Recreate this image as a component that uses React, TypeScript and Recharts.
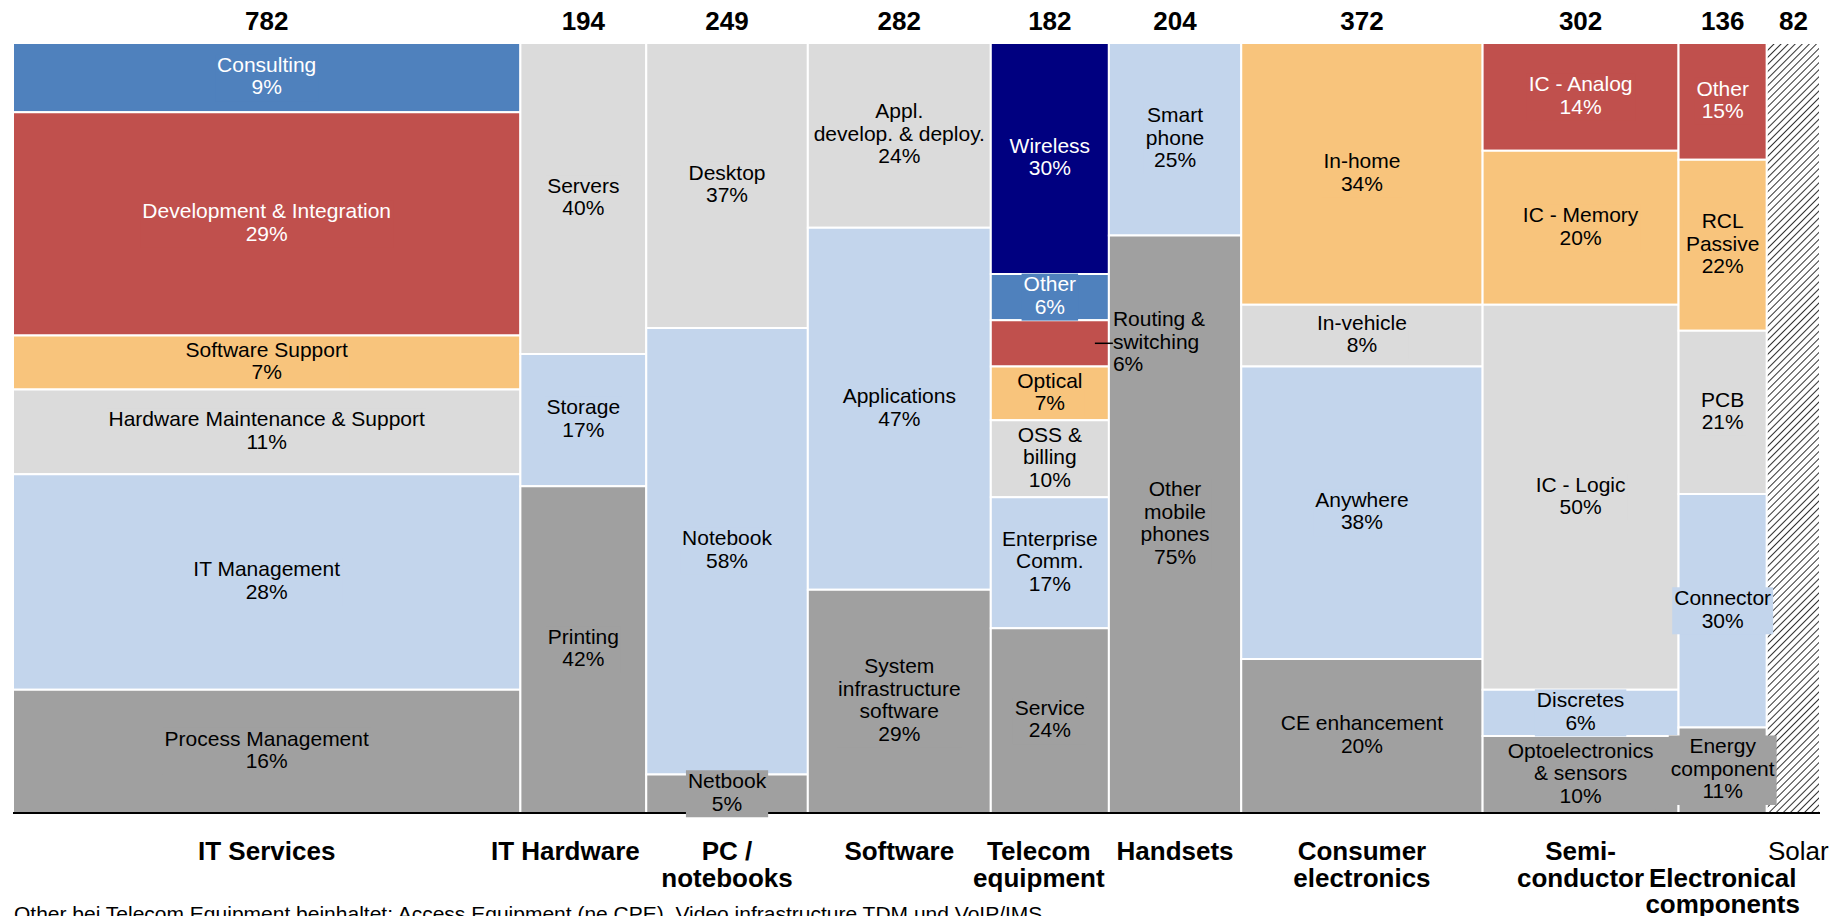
import React from 'react';
import {ComposedChart, XAxis, YAxis, ReferenceArea} from 'recharts';

const FONT = '"Liberation Sans", Arial, Helvetica, sans-serif';

// market size per column (top numbers) and column names (bottom)
const markets = [
  'IT Services', 'IT Hardware', 'PC /\nnotebooks', 'Software', 'Telecom\nequipment',
  'Handsets', 'Consumer\nelectronics', 'Semi-\nconductor', 'Electronical\ncomponents', 'Solar',
];
const marketTotals = [782, 194, 249, 282, 182, 204, 372, 302, 136, 82];

// segments, top to bottom
const itServices = ['Consulting', 'Development & Integration', 'Software Support', 'Hardware Maintenance & Support', 'IT Management', 'Process Management'];
const itServicesShare = [9, 29, 7, 11, 28, 16];
const itHardware = ['Servers', 'Storage', 'Printing'];
const itHardwareShare = [40, 17, 42];
const pcNotebooks = ['Desktop', 'Notebook', 'Netbook'];
const pcNotebooksShare = [37, 58, 5];
const software = ['Appl.\ndevelop. & deploy.', 'Applications', 'System\ninfrastructure\nsoftware'];
const softwareShare = [24, 47, 29];
const telecom = ['Wireless', 'Other', 'Routing &\nswitching', 'Optical', 'OSS &\nbilling', 'Enterprise\nComm.', 'Service'];
const telecomShare = [30, 6, 6, 7, 10, 17, 24];
const handsets = ['Smart\nphone', 'Other\nmobile\nphones'];
const handsetsShare = [25, 75];
const consumer = ['In-home', 'In-vehicle', 'Anywhere', 'CE enhancement'];
const consumerShare = [34, 8, 38, 20];
const semiconductor = ['IC - Analog', 'IC - Memory', 'IC - Logic', 'Discretes', 'Optoelectronics\n& sensors'];
const semiconductorShare = [14, 20, 50, 6, 10];
const electronical = ['Other', 'RCL\nPassive', 'PCB', 'Connector', 'Energy\ncomponent'];
const electronicalShare = [15, 22, 21, 30, 11];
const solar = [''];
const solarShare = [100];

const footnote = 'Other bei Telecom Equipment beinhaltet: Access Equipment (ne CPE), Video infrastructure TDM und VoIP/IMS';

const segmentNames = [itServices, itHardware, pcNotebooks, software, telecom, handsets, consumer, semiconductor, electronical, solar];
const segmentShares = [itServicesShare, itHardwareShare, pcNotebooksShare, softwareShare, telecomShare, handsetsShare, consumerShare, semiconductorShare, electronicalShare, solarShare];

// styling
const PAL: Record<string, string> = {
  blue: '#4F81BD', red: '#C0504D', orange: '#F8C47C', light: '#DBDBDB',
  sky: '#C3D5EC', dark: '#A0A0A0', navy: '#000080', hatch: 'url(#solarHatch)',
};
const WHITE_TEXT = ['blue', 'red', 'navy'];
const segmentFills = [
  ['blue', 'red', 'orange', 'light', 'sky', 'dark'],
  ['light', 'sky', 'dark'],
  ['light', 'sky', 'dark'],
  ['light', 'sky', 'dark'],
  ['navy', 'blue', 'red', 'orange', 'light', 'sky', 'dark'],
  ['sky', 'dark'],
  ['orange', 'light', 'sky', 'dark'],
  ['red', 'orange', 'light', 'sky', 'dark'],
  ['red', 'orange', 'light', 'sky', 'dark'],
  ['hatch'],
];
const callouts = ['4-2']; // label sits outside the cell with a leader line
const tickNudge = [[0, 0], [-18, 0], [0, 0], [0, 0], [-11, 0], [0, 0], [0, 0], [0, 0], [0, 1], [5, 0]];

const LABEL_SIZE = 21;
const LINE = 22.5;

let ctx: CanvasRenderingContext2D | null = null;
const textWidth = (s: string) => {
  if (!ctx) ctx = document.createElement('canvas').getContext('2d');
  if (!ctx) return s.length * 10;
  ctx.font = `${LABEL_SIZE}px ${FONT}`;
  return ctx.measureText(s).width;
};

const grandTotal = marketTotals.reduce((a, b) => a + b, 0);
const starts = marketTotals.map((_, i) => marketTotals.slice(0, i).reduce((a, b) => a + b, 0));
const mids = marketTotals.map((t, i) => starts[i] + t / 2);

type Cell = {key: string; x1: number; x2: number; y1: number; y2: number; fill: string; lines: string[]; white: boolean; callout: boolean};

const cells: Cell[] = [];
segmentNames.forEach((names, i) => {
  const shares = segmentShares[i];
  const sum = shares.reduce((a, b) => a + b, 0);
  let acc = 0;
  names.forEach((name, j) => {
    const y1 = (acc / sum) * 100;
    acc += shares[j];
    const y2 = (acc / sum) * 100;
    const tone = segmentFills[i][j];
    cells.push({
      key: `${i}-${j}`,
      x1: starts[i], x2: starts[i] + marketTotals[i], y1, y2,
      fill: PAL[tone],
      lines: name ? [...name.split('\n'), `${shares[j]}%`] : [],
      white: WHITE_TEXT.includes(tone),
      callout: callouts.includes(`${i}-${j}`),
    });
  });
});

const CellLabel = (props: any) => {
  const {viewBox, cell} = props as {viewBox: {x: number; y: number; width: number; height: number}; cell: Cell};
  if (!viewBox || !cell.lines.length) return null;
  const {x, y, width, height} = viewBox;
  const cy = y + height / 2;
  const n = cell.lines.length;
  const first = cy - ((n - 1) * LINE) / 2 + 5.5;
  if (cell.callout) {
    const tx = x + width + 4;
    return (
      <g>
        <line x1={x + width - 14} x2={tx} y1={cy} y2={cy} stroke="#000" strokeWidth={1.5} />
        {cell.lines.map((l, k) => (
          <text key={k} x={tx} y={first + k * LINE} fontSize={LABEL_SIZE} fontFamily={FONT} fill="#000">{l}</text>
        ))}
      </g>
    );
  }
  const cx = x + width / 2;
  const w = Math.max(...cell.lines.map(textWidth)) + 4;
  const h = n * LINE + 2;
  return (
    <g>
      <rect x={cx - w / 2} y={cy - h / 2} width={w} height={h} fill={cell.fill} />
      {cell.lines.map((l, k) => (
        <text key={k} x={cx} y={first + k * LINE} textAnchor="middle" fontSize={LABEL_SIZE} fontFamily={FONT}
          fill={cell.white ? '#fff' : '#000'}>{l}</text>
      ))}
    </g>
  );
};

const TopTick = (props: any) => {
  const {x, index} = props;
  return (
    <text x={x} y={30} textAnchor="middle" fontSize={26} fontWeight="bold" fontFamily={FONT} fill="#000">
      {marketTotals[index]}
    </text>
  );
};

const BottomTick = (props: any) => {
  const {x, index} = props;
  const [dx, dy] = tickNudge[index] ?? [0, 0];
  const lines = markets[index].split('\n');
  const solarCol = index === markets.length - 1;
  return (
    <g>
      {lines.map((l, k) => (
        <text key={k} x={x + dx} y={860 + (k + dy) * 26.5} textAnchor="middle" fontSize={26}
          fontWeight={solarCol ? 'normal' : 'bold'} fontFamily={FONT} fill="#000">{l}</text>
      ))}
    </g>
  );
};

const rows = markets.map((m, i) => ({market: m, total: marketTotals[i], mid: mids[i], top: 0, bottom: 100}));

export default function App() {
  return (
    <div style={{width: 1847, height: 916, position: 'relative', background: '#fff'}}>
      <style>{'body{margin:0;overflow:hidden}'}</style>
      <ComposedChart width={1847} height={916} data={rows} margin={{top: 0, right: 27, bottom: 0, left: 13}}>
        <defs>
          <pattern id="solarHatch" width={5} height={5} patternUnits="userSpaceOnUse" patternTransform="rotate(45)">
            <rect width={5} height={5} fill="#fff" />
            <line x1={0} y1={0} x2={0} y2={5} stroke="#333" strokeWidth={2} />
          </pattern>
        </defs>
        <XAxis xAxisId="top" orientation="top" type="number" dataKey="mid" domain={[0, grandTotal]} ticks={mids}
          allowDataOverflow interval={0} height={43} axisLine={false} tickLine={false} tick={<TopTick />} />
        <XAxis type="number" dataKey="mid" domain={[0, grandTotal]} ticks={mids} interval={0} height={103}
          allowDataOverflow tickLine={false} axisLine={{stroke: '#000', strokeWidth: 2}} tick={<BottomTick />} />
        <YAxis type="number" dataKey="bottom" domain={[0, 100]} allowDataOverflow reversed hide />
        {cells.map(c => (
          <ReferenceArea key={c.key} x1={c.x1} x2={c.x2} y1={c.y1} y2={c.y2} fill={c.fill} fillOpacity={1}
            stroke="#fff" strokeWidth={2} ifOverflow="visible" />
        ))}
        {cells.map(c => (
          <ReferenceArea key={`l${c.key}`} x1={c.x1} x2={c.x2} y1={c.y1} y2={c.y2} fill="none" fillOpacity={0}
            stroke="none" ifOverflow="visible" zIndex={2500} label={<CellLabel cell={c} />} />
        ))}
        <text x={14} y={921} fontSize={21} fontFamily={FONT} fill="#000">{footnote}</text>
      </ComposedChart>
    </div>
  );
}
